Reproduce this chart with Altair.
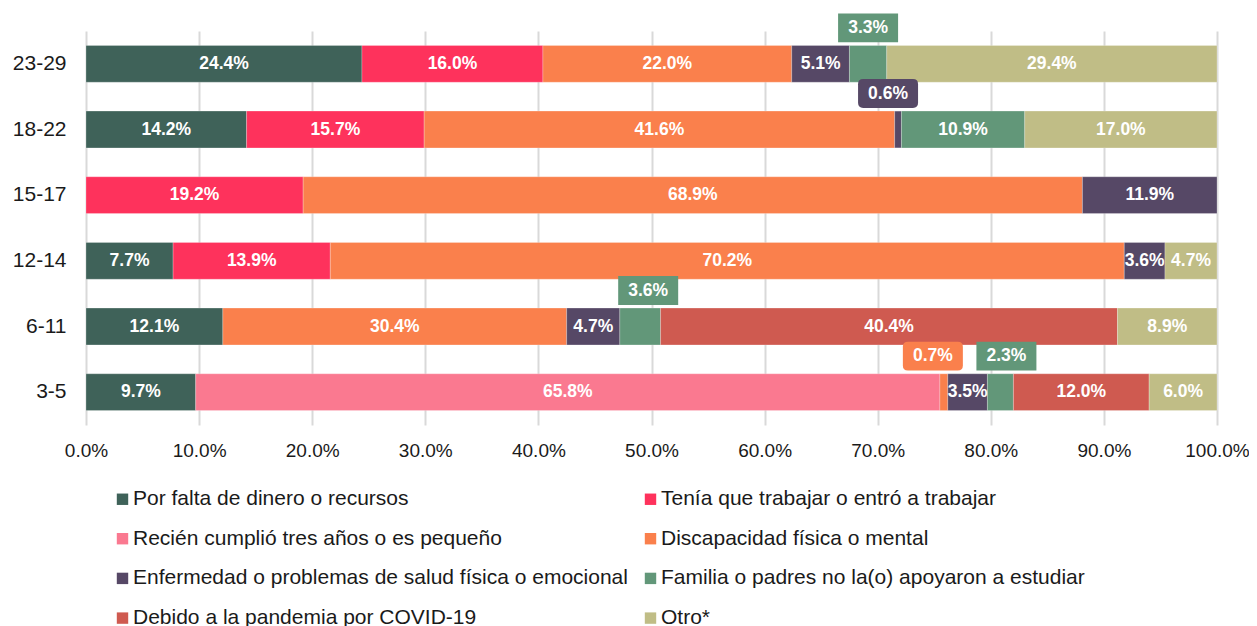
import altair as alt
import pandas as pd

ages = ["23-29", "18-22", "15-17", "12-14", "6-11", "3-5"]
categories = [
    "Por falta de dinero o recursos",
    "Tenía que trabajar o entró a trabajar",
    "Recién cumplió tres años o es pequeño",
    "Discapacidad física o mental",
    "Enfermedad o problemas de salud física o emocional",
    "Familia o padres no la(o) apoyaron a estudiar",
    "Debido a la pandemia por COVID-19",
    "Otro*",
]
colors = ["#3F6259", "#FE325C", "#FA7990", "#FA804C", "#564866", "#629779", "#CF5A50", "#C0BD86"]

# values per age group, in category order
v_23_29 = [24.4, 16.0, 0.0, 22.0, 5.1, 3.3, 0.0, 29.4]
v_18_22 = [14.2, 15.7, 0.0, 41.6, 0.6, 10.9, 0.0, 17.0]
v_15_17 = [0.0, 19.2, 0.0, 68.9, 11.9, 0.0, 0.0, 0.0]
v_12_14 = [7.7, 13.9, 0.0, 70.2, 3.6, 0.0, 0.0, 4.7]
v_6_11 = [12.1, 0.0, 0.0, 30.4, 4.7, 3.6, 40.4, 8.9]
v_3_5 = [9.7, 0.0, 65.8, 0.7, 3.5, 2.3, 12.0, 6.0]
values = [v_23_29, v_18_22, v_15_17, v_12_14, v_6_11, v_3_5]

PLOT_W = 1131
# segments whose label is drawn as a callout above the bar: (age, category) -> (box style, sideways nudge in px)
callouts = {
    ("23-29", "Familia o padres no la(o) apoyaron a estudiar"): ("rect", 0),
    ("18-22", "Enfermedad o problemas de salud física o emocional"): ("round", -10),
    ("6-11", "Familia o padres no la(o) apoyaron a estudiar"): ("rect", 8),
    ("3-5", "Discapacidad física o mental"): ("round", -11),
    ("3-5", "Familia o padres no la(o) apoyaron a estudiar"): ("rect", 6),
}

rows = []
for age, vals in zip(ages, values):
    start = 0.0
    for i, (cat, v) in enumerate(zip(categories, vals)):
        end = min(start + v, 100.0)
        co = callouts.get((age, cat))
        mid = (start + end) / 2
        rows.append({
            "age": age, "cat": cat, "order": i, "value": v,
            "start": start, "end": end, "mid": mid,
            "label": f"{v:.1f}%",
            "callout": co is not None,
            "style": co[0] if co else "none",
            "lx": mid + (co[1] * 100.0 / PLOT_W if co else 0.0),
        })
        start = start + v
df = pd.DataFrame(rows)
df = df[df["value"] > 0]

FONT = "Liberation Sans"
color_scale = alt.Scale(domain=categories, range=colors)
y_enc = alt.Y("age:N", sort=ages, title=None,
              scale=alt.Scale(paddingInner=0.44, paddingOuter=0.22),
              axis=alt.Axis(domain=False, ticks=False, grid=False, labelFont=FONT,
                            labelFontSize=21, labelColor="#1a1a1a", labelPadding=20))

base = alt.Chart(df)

bars = base.mark_bar(stroke="white", strokeWidth=0.4, strokeOpacity=0.6).encode(
    x=alt.X("start:Q", title=None,
            scale=alt.Scale(domain=[0, 100], nice=False),
            axis=alt.Axis(values=list(range(0, 101, 10)), domain=False, ticks=False,
                          labelExpr="format(datum.value, '.1f') + '%'",
                          labelFlush=False, labelOverlap=False, labelBound=False,
                          labelFont=FONT, labelFontSize=19, labelColor="#1a1a1a",
                          labelPadding=16, grid=True, gridColor="#D9D9D9", gridWidth=2)),
    x2="end:Q",
    y=y_enc,
    color=alt.Color("cat:N", scale=color_scale, sort=categories, title=None,
                    legend=alt.Legend(orient="none", legendX=26, legendY=457.5, columns=2,
                                      direction="horizontal",
                                      symbolType="square", symbolSize=130, symbolStrokeWidth=0,
                                      labelFont=FONT, labelFontSize=21, labelColor="#1a1a1a",
                                      labelLimit=0, rowPadding=17.7, columnPadding=12,
                                      labelOffset=0, padding=0)),
    order=alt.Order("order:Q"),
)

inner = base.transform_filter("!datum.callout").mark_text(
    color="white", font=FONT, fontSize=17.5, fontWeight="bold"
).encode(x="mid:Q", y=alt.Y("age:N", sort=ages), text="label:N")

rect_path = "M-1,-0.48H1V0.48H-1Z"
round_path = ("M-0.83,-0.48H0.83Q1,-0.48 1,-0.31V0.31Q1,0.48 0.83,0.48"
              "H-0.83Q-1,0.48 -1,0.31V-0.31Q-1,-0.48 -0.83,-0.48Z")
callout_df = base.transform_filter("datum.callout")

boxes = callout_df.mark_point(
    size=3600, filled=True, opacity=1, strokeWidth=0, yOffset=-36
).encode(x="lx:Q", y=alt.Y("age:N", sort=ages),
         shape=alt.Shape("style:N", scale=alt.Scale(domain=["rect", "round"],
                                                    range=[rect_path, round_path]), legend=None),
         color=alt.Color("cat:N", scale=color_scale, legend=None))

box_text = callout_df.mark_text(
    color="white", font=FONT, fontSize=17.5, fontWeight="bold", dy=-36
).encode(x="lx:Q", y=alt.Y("age:N", sort=ages), text="label:N")

chart = alt.layer(bars, inner, boxes, box_text).properties(
    width=PLOT_W, height=394,
    autosize=alt.AutoSizeParams(type="none"),
    padding={"left": 78, "top": 23, "right": 32, "bottom": 201},
).configure_view(stroke=None)

chart.save("out.html", embed_options={"renderer": "svg", "actions": False})
